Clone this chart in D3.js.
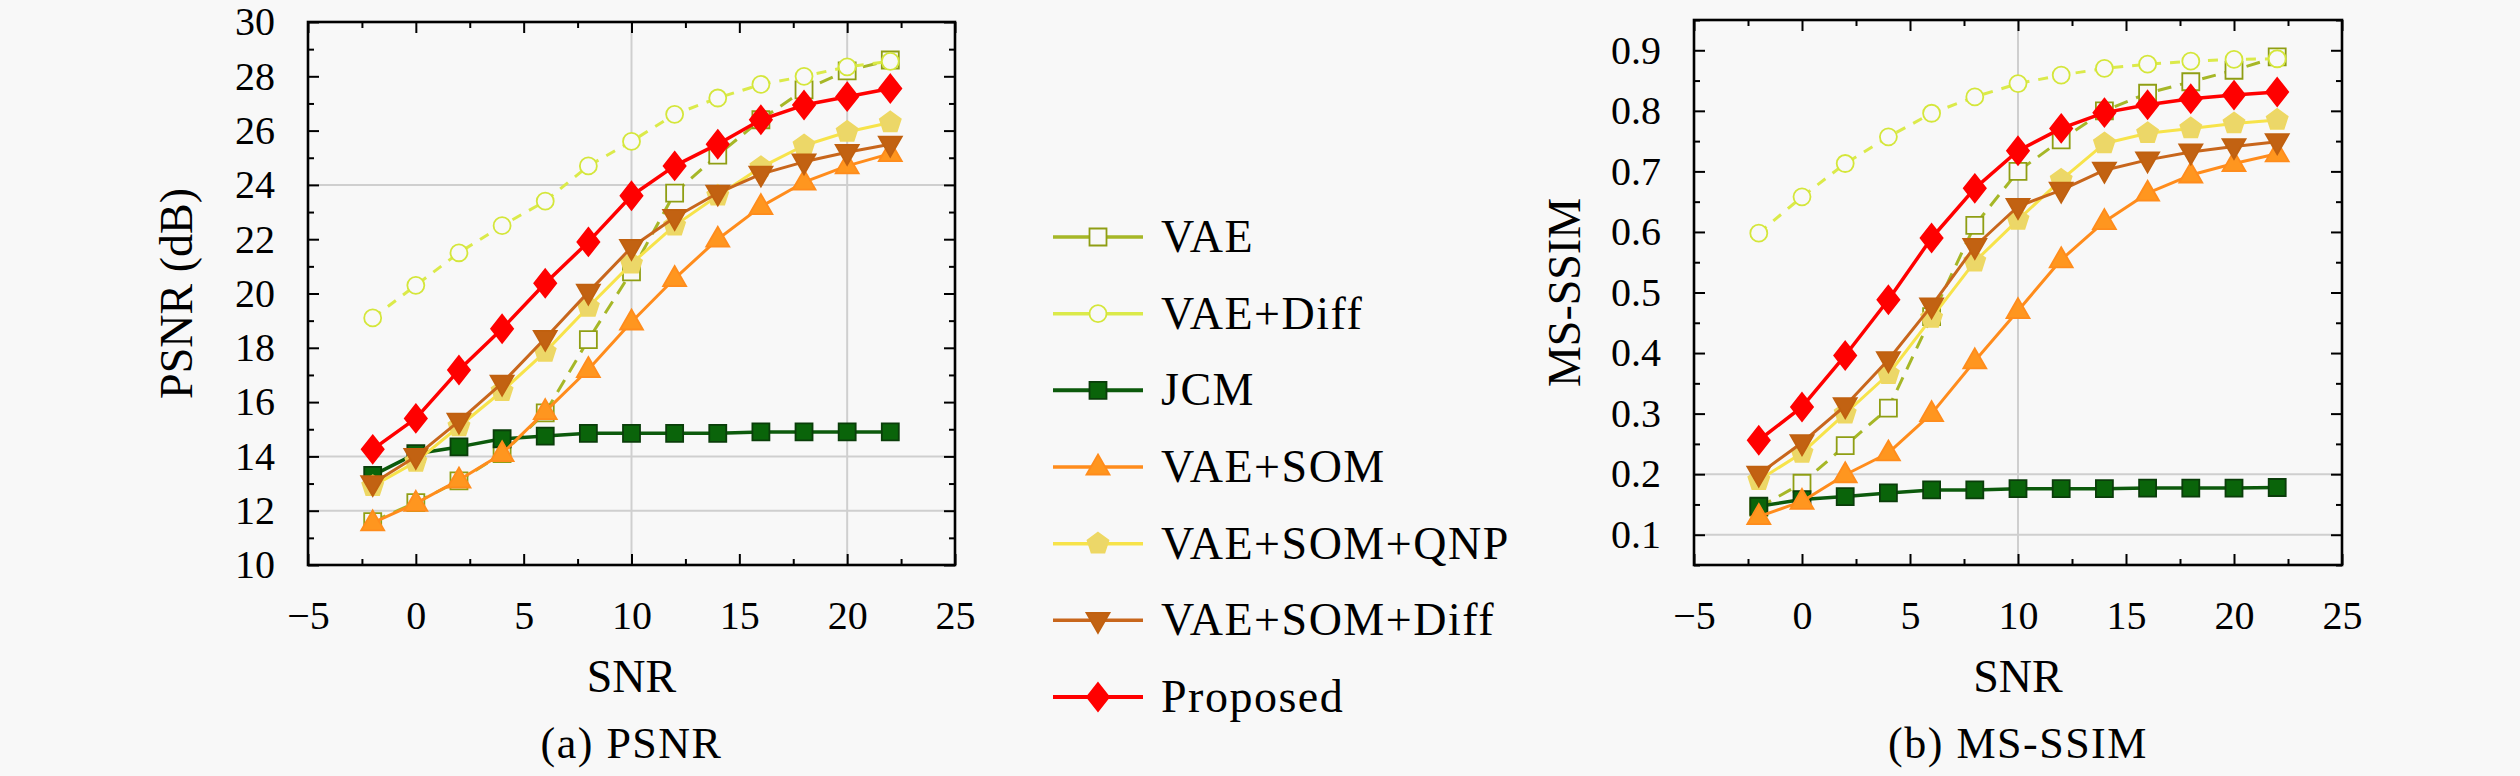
<!DOCTYPE html>
<html><head><meta charset="utf-8">
<script src="https://cdn.jsdelivr.net/npm/d3@7"></script>
<style>
html,body{margin:0;padding:0;background:#f8f8f8;} svg{display:block;}
</style>
</head><body>
<svg id="chart" width="2520" height="776"></svg>
<script>
// ---------------- data ----------------
const snr = [-2, 0, 2, 4, 6, 8, 10, 12, 14, 16, 18, 20, 22];
const seriesNames = ["VAE", "VAE+Diff", "JCM", "VAE+SOM", "VAE+SOM+QNP", "VAE+SOM+Diff", "Proposed"];

const psnrVAE      = [11.6, 12.3, 13.1, 14.1, 15.6, 18.3, 20.8, 23.7, 25.1, 26.4, 27.5, 28.2, 28.6];
const psnrVAEDiff  = [19.1, 20.3, 21.5, 22.5, 23.4, 24.7, 25.6, 26.6, 27.2, 27.7, 28.0, 28.35, 28.55];
const psnrJCM      = [13.3, 14.1, 14.35, 14.65, 14.75, 14.85, 14.85, 14.85, 14.85, 14.9, 14.9, 14.9, 14.9];
const psnrSOM      = [11.55, 12.27, 13.13, 14.1, 15.65, 17.2, 18.95, 20.55, 22.0, 23.2, 24.1, 24.7, 25.15];
const psnrSOMQNP   = [12.9, 13.8, 15.1, 16.4, 17.85, 19.5, 21.1, 22.5, 23.6, 24.65, 25.45, 25.95, 26.3];
const psnrSOMDiff  = [13.0, 14.0, 15.3, 16.7, 18.35, 20.05, 21.7, 22.8, 23.7, 24.4, 24.85, 25.2, 25.5];
const psnrProposed = [14.26, 15.4, 17.18, 18.7, 20.38, 21.9, 23.6, 24.7, 25.5, 26.4, 26.94, 27.25, 27.55];

const ssimVAE      = [0.145, 0.185, 0.247, 0.309, 0.46, 0.611, 0.70, 0.752, 0.80, 0.829, 0.848, 0.867, 0.889];
const ssimVAEDiff  = [0.598, 0.658, 0.713, 0.757, 0.796, 0.823, 0.845, 0.859, 0.87, 0.877, 0.882, 0.885, 0.886];
const ssimJCM      = [0.147, 0.158, 0.163, 0.169, 0.174, 0.174, 0.176, 0.176, 0.176, 0.177, 0.177, 0.177, 0.178];
const ssimSOM      = [0.13, 0.155, 0.199, 0.235, 0.30, 0.387, 0.47, 0.554, 0.617, 0.664, 0.694, 0.713, 0.729];
const ssimSOMQNP   = [0.19, 0.235, 0.30, 0.365, 0.458, 0.551, 0.62, 0.686, 0.746, 0.763, 0.771, 0.779, 0.785];
const ssimSOMDiff  = [0.2, 0.252, 0.313, 0.389, 0.478, 0.576, 0.642, 0.669, 0.702, 0.719, 0.732, 0.741, 0.749];
const ssimProposed = [0.256, 0.311, 0.396, 0.488, 0.59, 0.672, 0.734, 0.771, 0.797, 0.81, 0.82, 0.826, 0.831];

const xTicks = [-5, 0, 5, 10, 15, 20, 25];
const xMinorTicks = [-2.5, 2.5, 7.5, 12.5, 17.5, 22.5];
const psnrTicks = [10, 12, 14, 16, 18, 20, 22, 24, 26, 28, 30];
const psnrMinorTicks = [11, 13, 15, 17, 19, 21, 23, 25, 27, 29];
const ssimTicks = [0.1, 0.2, 0.3, 0.4, 0.5, 0.6, 0.7, 0.8, 0.9];
const ssimMinorTicks = [0.05, 0.15, 0.25, 0.35, 0.45, 0.55, 0.65, 0.75, 0.85, 0.95];

const psnrData = [psnrVAE, psnrVAEDiff, psnrJCM, psnrSOM, psnrSOMQNP, psnrSOMDiff, psnrProposed];
const ssimData = [ssimVAE, ssimVAEDiff, ssimJCM, ssimSOM, ssimSOMQNP, ssimSOMDiff, ssimProposed];

// ---------------- styles ----------------
const BG = "#f8f8f8";
const FONT = "'Liberation Serif', serif";
const styles = [
  {line: "#a6b727", stroke: "#8f9e14", fill: BG,        shape: "square",  dash: "14,9", width: 3},
  {line: "#dbea4a", stroke: "#d4e63a", fill: BG,        shape: "circle",  dash: "10,9", width: 3},
  {line: "#0c5a0c", stroke: "#0a3d0a", fill: "#0a640a", shape: "squareF", dash: null,   width: 3.5},
  {line: "#ff8c1c", stroke: "#ff8c1c", fill: "#ff961f", shape: "triUp",   dash: null,   width: 3},
  {line: "#f7e34a", stroke: "#eed862", fill: "#ecd768", shape: "pent",    dash: null,   width: 3},
  {line: "#c8661c", stroke: "#c0600f", fill: "#c26212", shape: "triDown", dash: null,   width: 3},
  {line: "#ff0000", stroke: "#ff0000", fill: "#ff0000", shape: "diamond", dash: null,   width: 3.5}
];

function markerPath(shape) {
  const p = d3.path();
  if (shape === "square" || shape === "squareF") {
    p.rect(-8.5, -8.5, 17, 17);
  } else if (shape === "circle") {
    p.arc(0, 0, 8.5, 0, 2 * Math.PI);
  } else if (shape === "triUp") {
    p.moveTo(0, -12.5); p.lineTo(11.5, 7.5); p.lineTo(-11.5, 7.5); p.closePath();
  } else if (shape === "triDown") {
    p.moveTo(0, 12.5); p.lineTo(11.5, -7.5); p.lineTo(-11.5, -7.5); p.closePath();
  } else if (shape === "pent") {
    for (let k = 0; k < 5; k++) {
      const a = -Math.PI / 2 + k * 2 * Math.PI / 5;
      const x = 11 * Math.cos(a), y = 11 * Math.sin(a);
      if (k === 0) p.moveTo(x, y); else p.lineTo(x, y);
    }
    p.closePath();
  } else if (shape === "diamond") {
    p.moveTo(0, -14); p.lineTo(11, 0); p.lineTo(0, 14); p.lineTo(-11, 0); p.closePath();
  }
  return p.toString();
}

const svg = d3.select("#chart");
svg.append("rect").attr("width", 2520).attr("height", 776).attr("fill", BG);

function drawPanel(cfg) {
  const x = d3.scaleLinear().domain([-5, 25]).range(cfg.xRange);
  const y = d3.scaleLinear().domain(cfg.yDomain).range(cfg.yRange);
  const g = svg.append("g");
  const [x0, x1] = cfg.xRange, [y0, y1] = cfg.yRange;

  g.selectAll(".vg").data(cfg.vGrid).join("line")
    .attr("x1", d => x(d)).attr("x2", d => x(d)).attr("y1", y0).attr("y2", y1)
    .attr("stroke", "#cfcfcf").attr("stroke-width", 2);
  g.selectAll(".hg").data(cfg.hGrid).join("line")
    .attr("x1", x0).attr("x2", x1).attr("y1", d => y(d)).attr("y2", d => y(d))
    .attr("stroke", "#cfcfcf").attr("stroke-width", 2);

  const styleAxis = sel => {
    sel.attr("font-family", FONT);
    sel.select(".domain").remove();
    sel.selectAll(".tick line").attr("stroke", "#000").attr("stroke-width", 2);
    sel.selectAll("text").style("font-family", FONT).attr("font-size", 40).attr("fill", "#000");
  };
  g.append("g").attr("transform", `translate(0,${y0})`)
    .call(d3.axisBottom(x).tickValues(xTicks).tickSizeInner(-11).tickSizeOuter(0).tickPadding(36).tickFormat(d3.format("d")))
    .call(styleAxis);
  g.append("g").attr("transform", `translate(0,${y0})`)
    .call(d3.axisBottom(x).tickValues(xMinorTicks).tickSizeInner(-6).tickSizeOuter(0).tickFormat(""))
    .call(styleAxis);
  g.append("g").attr("transform", `translate(0,${y1})`)
    .call(d3.axisTop(x).tickValues(xTicks).tickSizeInner(-11).tickSizeOuter(0).tickFormat(""))
    .call(styleAxis);
  g.append("g").attr("transform", `translate(0,${y1})`)
    .call(d3.axisTop(x).tickValues(xMinorTicks).tickSizeInner(-6).tickSizeOuter(0).tickFormat(""))
    .call(styleAxis);
  g.append("g").attr("transform", `translate(${x0},0)`)
    .call(d3.axisLeft(y).tickValues(cfg.yTicks).tickSizeInner(-11).tickSizeOuter(0).tickPadding(33).tickFormat(cfg.yFormat))
    .call(styleAxis);
  g.append("g").attr("transform", `translate(${x0},0)`)
    .call(d3.axisLeft(y).tickValues(cfg.yMinor).tickSizeInner(-6).tickSizeOuter(0).tickFormat(""))
    .call(styleAxis);
  g.append("g").attr("transform", `translate(${x1},0)`)
    .call(d3.axisRight(y).tickValues(cfg.yTicks).tickSizeInner(-11).tickSizeOuter(0).tickFormat(""))
    .call(styleAxis);
  g.append("g").attr("transform", `translate(${x1},0)`)
    .call(d3.axisRight(y).tickValues(cfg.yMinor).tickSizeInner(-6).tickSizeOuter(0).tickFormat(""))
    .call(styleAxis);

  const line = d3.line().x((d, i) => x(snr[i])).y(d => y(d));
  cfg.data.forEach((vals, si) => {
    const st = styles[si];
    const sg = g.append("g");
    sg.append("path").attr("d", line(vals)).attr("fill", "none")
      .attr("stroke", st.line).attr("stroke-width", st.width)
      .attr("stroke-linejoin", "round")
      .attr("stroke-dasharray", st.dash);
    sg.selectAll("path.m").data(vals).join("path").attr("class", "m")
      .attr("transform", (d, i) => `translate(${x(snr[i])},${y(d)})`)
      .attr("d", markerPath(st.shape))
      .attr("fill", st.fill).attr("stroke", st.stroke).attr("stroke-width", 1.8);
  });

  g.append("rect").attr("x", x0).attr("y", y1).attr("width", x1 - x0).attr("height", y0 - y1)
    .attr("fill", "none").attr("stroke", "#000").attr("stroke-width", 2.6);

  g.append("text").attr("x", (x0 + x1) / 2).attr("y", 692).attr("text-anchor", "middle")
    .style("font-family", FONT).attr("font-size", 46).text("SNR");
  g.append("text").attr("transform", `translate(${cfg.yLabelX},${(y0 + y1) / 2}) rotate(-90)`)
    .attr("text-anchor", "middle").style("font-family", FONT).attr("font-size", 46).text(cfg.yLabel);
  g.append("text").attr("x", (x0 + x1) / 2).attr("y", 758).attr("text-anchor", "middle")
    .style("font-family", FONT).attr("font-size", 44).attr("letter-spacing", 1.5).text(cfg.caption);
}

drawPanel({
  xRange: [308, 955], yRange: [565, 22], yDomain: [10, 30],
  yTicks: psnrTicks, yMinor: psnrMinorTicks, yFormat: d3.format("d"),
  vGrid: [10, 20], hGrid: [12, 14, 24],
  data: psnrData, yLabel: "PSNR (dB)", yLabelX: 192, caption: "(a) PSNR"
});
drawPanel({
  xRange: [1694, 2342], yRange: [565, 20], yDomain: [0.05, 0.95],
  yTicks: ssimTicks, yMinor: ssimMinorTicks, yFormat: d3.format(".1f"),
  vGrid: [10], hGrid: [0.1, 0.2],
  data: ssimData, yLabel: "MS-SSIM", yLabelX: 1580, caption: "(b) MS-SSIM"
});

const legendY = d3.scaleLinear().domain([0, 6]).range([237, 697]);
const lg = svg.append("g");
seriesNames.forEach((name, i) => {
  const st = styles[i];
  const cy = legendY(i);
  lg.append("line").attr("x1", 1053).attr("x2", 1143).attr("y1", cy).attr("y2", cy)
    .attr("stroke", st.line).attr("stroke-width", st.width + 0.5);
  lg.append("path").attr("transform", `translate(1098,${cy})`).attr("d", markerPath(st.shape))
    .attr("fill", st.fill).attr("stroke", st.stroke).attr("stroke-width", 1.8);
  lg.append("text").attr("x", 1161).attr("y", cy + 15).style("font-family", FONT)
    .attr("font-size", 46).attr("letter-spacing", 1.5).text(name);
});
</script>
</body></html>
